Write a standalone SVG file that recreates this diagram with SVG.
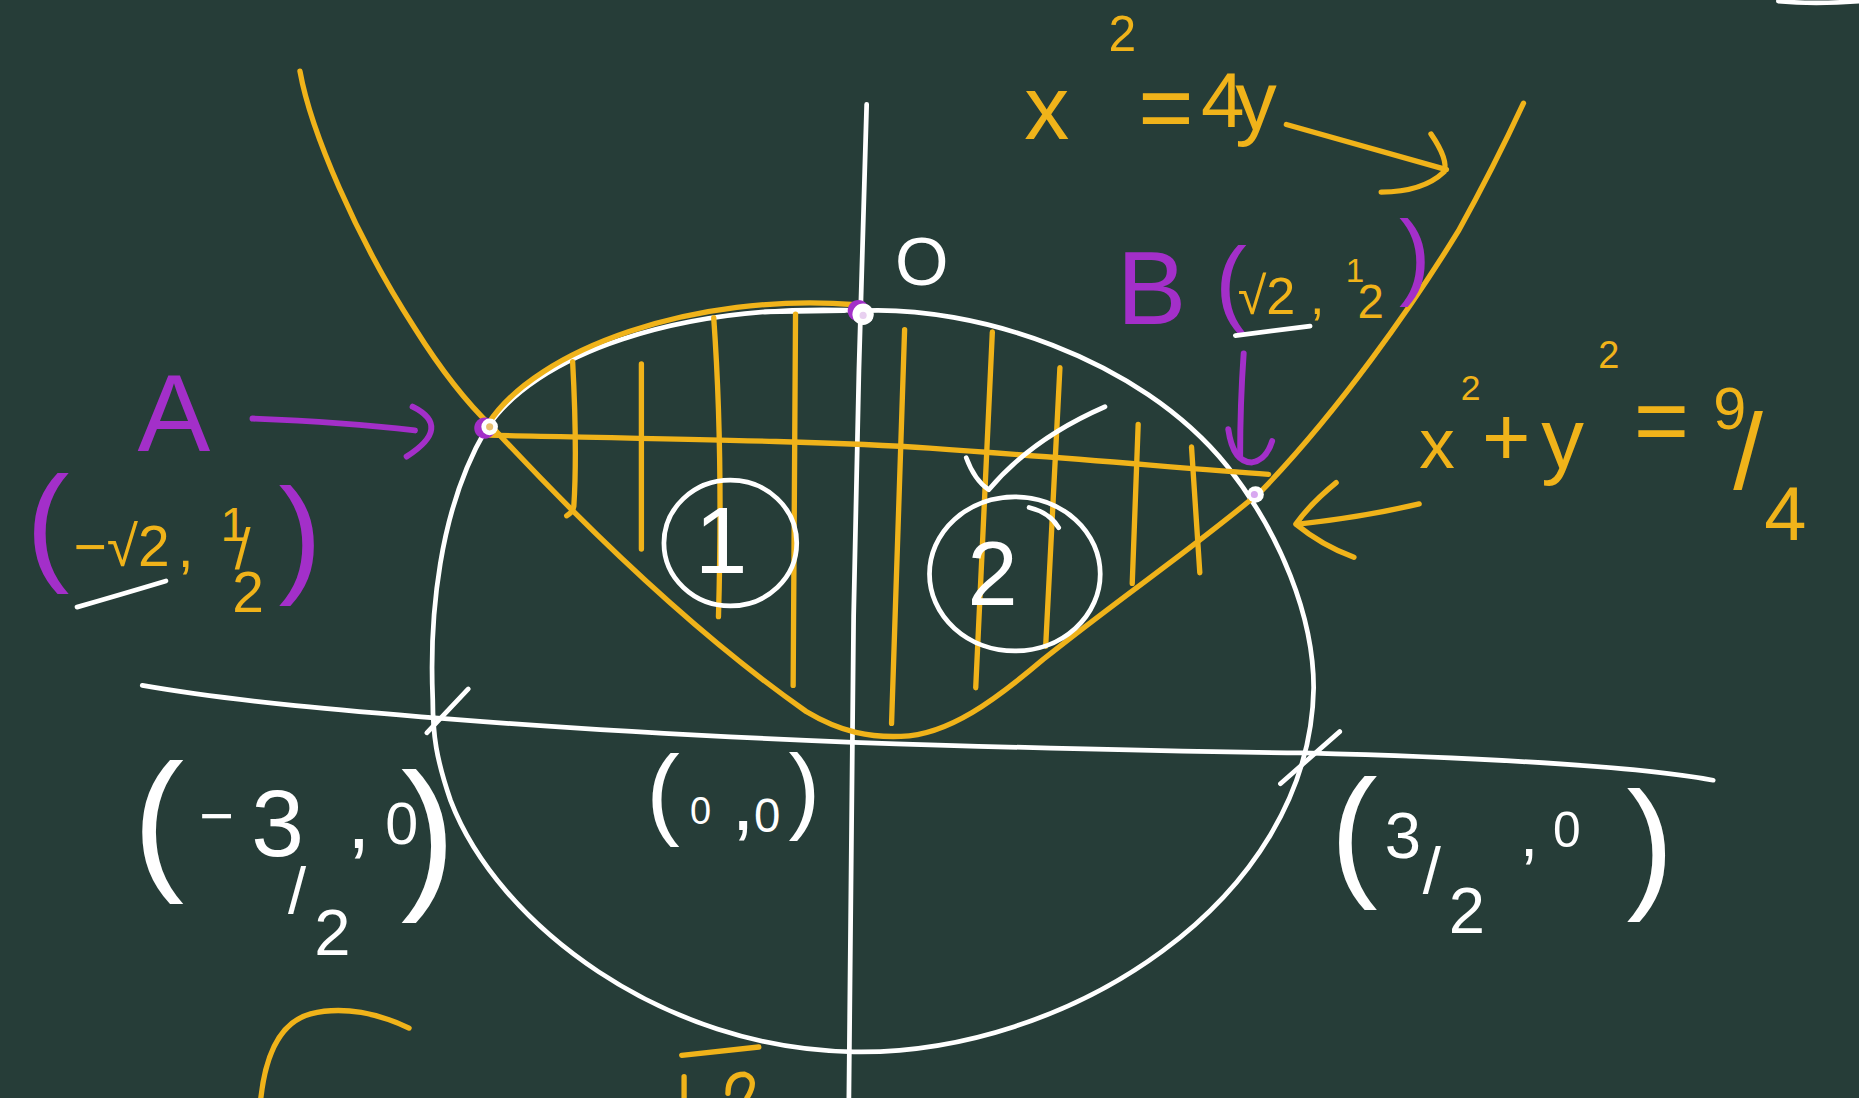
<svg xmlns="http://www.w3.org/2000/svg" width="1859" height="1098" viewBox="0 0 1859 1098">
<style>
.o{fill:none;stroke:#f0b31a;stroke-width:4.5;stroke-linecap:round;stroke-linejoin:round}
.w{fill:none;stroke:#ffffff;stroke-width:4;stroke-linecap:round;stroke-linejoin:round}
.p{fill:none;stroke:#a32fc9;stroke-width:5;stroke-linecap:round;stroke-linejoin:round}
text{font-family:"Liberation Sans","DejaVu Sans",sans-serif}
.to{fill:#f0b31a}
.tw{fill:#ffffff}
.tp{fill:#a32fc9}
</style>
<rect width="1859" height="1098" fill="#263d38"/>
<g transform="scale(1.18559,1.18575)">
  <g id="axes">
    <path class="w" d="M731,88 C727,200 722,400 720,520 C718,700 716,850 716,926" stroke-width="3"/>
    <path class="w" d="M120,578 C200,592 300,600 375,606 C500,616 620,622 720,626 C900,632 1000,634 1100,635 C1250,639 1380,646 1445,658" stroke-width="5.5"/>
    <path class="w" d="M360,618 L395,581"/>
    <path class="w" d="M1080,661 L1130,617"/>
    <path class="w" d="M645,263 L712,262"/>
    <path class="w" d="M1500,1 Q1530,4 1568,1"/>
  </g>
  <g id="circle">
    <path class="w" d="M728,262 C820,258 960,300 1035,393 C1080,450 1108,520 1108,580 C1105,760 900,890 720,887 C560,885 420,780 380,675 C368,640 365,620 365,590 C362,520 370,430 410,362 C450,300 570,255 728,262 Z"/>
  </g>
  <g id="parabola">
    <path class="o" d="M253,60 C262,110 300,200 350,277 C372,312 392,338 415,360 C480,430 580,530 680,600 C710,618 735,622 760,621 C800,620 840,590 880,556 C950,500 1010,460 1065,413 C1130,345 1190,260 1230,195 C1255,150 1272,115 1285,87"/>
    <path class="o" d="M412,357 C452,295 585,246 722,257" stroke-width="5"/>
    <path class="o" d="M412,367 C550,370 700,372 784,378 C900,386 1000,395 1070,400"/>
  </g>
  <g id="hatch">
    <path class="o" d="M483,305 Q487,380 484,427 Q483,432 478,435"/>
    <path class="o" d="M541,307 L541,463"/>
    <path class="o" d="M602,268 Q610,380 606,520"/>
    <path class="o" d="M671,265 L669,578"/>
    <path class="o" d="M763,278 L752,610"/>
    <path class="o" d="M837,280 L823,580"/>
    <path class="o" d="M894,310 L882,545"/>
    <path class="o" d="M960,358 L955,492"/>
    <path class="o" d="M1005,377 L1012,483"/>
  </g>
  <g id="points">
    <circle cx="409" cy="361" r="9" fill="#a32fc9"/>
    <circle cx="413" cy="360" r="7" fill="#ffffff"/>
    <circle cx="413" cy="360" r="3" fill="#e8c070"/>
    <circle cx="724" cy="262" r="9" fill="#a32fc9"/>
    <circle cx="728" cy="265" r="9" fill="#ffffff"/>
    <circle cx="728" cy="266" r="3" fill="#e8d0f0"/>
    <circle cx="1059" cy="417" r="7" fill="#ffffff"/>
    <circle cx="1058" cy="417" r="3" fill="#d8a8f0"/>
  </g>
  <g id="connectors">
    <path class="p" d="M213,353 Q290,356 350,363"/>
    <path class="p" d="M348,343 Q382,360 343,385"/>
    <path class="p" d="M1049,298 Q1046,340 1046,385"/>
    <path class="p" d="M1036,362 Q1040,390 1056,390 Q1068,388 1073,372"/>
    <path class="o" d="M1085,105 L1220,143"/>
    <path class="o" d="M1207,113 Q1222,135 1218,145 Q1200,162 1165,162"/>
    <path class="o" d="M1197,425 Q1150,436 1095,442"/>
    <path class="o" d="M1127,407 Q1105,425 1093,442 Q1115,460 1142,470"/>
  </g>
  <g id="label-A">
    <text><tspan class="tp" x="116" y="380" font-size="92">A</tspan><tspan class="tp" x="22" y="478" font-size="110">(</tspan><tspan class="to" x="62" y="477" font-size="48">−√2</tspan><tspan class="to" x="150" y="478" font-size="48">,</tspan><tspan class="to" x="186" y="456" font-size="40">1</tspan><tspan class="to" x="198" y="480" font-size="48">/</tspan><tspan class="to" x="196" y="516" font-size="48">2</tspan><tspan class="tp" x="235" y="488" font-size="110">)</tspan></text>
    <path class="w" d="M65,512 Q100,502 140,490"/>
  </g>
  <g id="label-B">
    <text><tspan class="tp" x="942" y="273" font-size="88">B</tspan><tspan class="tp" x="1025" y="265" font-size="80">(</tspan><tspan class="to" x="1044" y="265" font-size="44">√2</tspan><tspan class="to" x="1105" y="265" font-size="44">,</tspan><tspan class="to" x="1135" y="238" font-size="28">1</tspan><tspan class="to" x="1145" y="268" font-size="40">2</tspan><tspan class="tp" x="1180" y="242" font-size="80">)</tspan></text>
    <path class="w" d="M1042,283 L1105,275"/>
  </g>
  <g id="label-parabola">
    <text class="to"><tspan x="864" y="117" font-size="76">x</tspan><tspan x="935" y="43" font-size="42">2</tspan><tspan x="960" y="118" font-size="80">=</tspan><tspan x="1013" y="107" font-size="66">4</tspan><tspan x="1042" y="110" font-size="70">y</tspan></text>
  </g>
  <g id="label-circle">
    <text class="to"><tspan x="1197" y="395" font-size="60">x</tspan><tspan x="1232" y="337" font-size="30">2</tspan><tspan x="1250" y="392" font-size="70">+</tspan><tspan x="1300" y="395" font-size="72">y</tspan><tspan x="1348" y="310" font-size="32">2</tspan><tspan x="1378" y="382" font-size="80">=</tspan><tspan x="1445" y="362" font-size="50">9</tspan><tspan x="1462" y="412" font-size="90">/</tspan><tspan x="1488" y="455" font-size="64">4</tspan></text>
  </g>
  <g id="region-1">
    <ellipse class="w" cx="616" cy="458" rx="56" ry="53"/>
    <text class="tw" x="586" y="483" font-size="80">1</text>
  </g>
  <g id="region-2">
    <ellipse class="w" cx="856" cy="484" rx="72" ry="65"/>
    <text class="tw" x="816" y="510" font-size="76">2</text>
    <path class="w" d="M868,428 Q885,432 893,445"/>
    <path class="w" d="M815,386 Q822,405 834,413 Q870,370 932,343"/>
  </g>
  <g id="label-O">
    <text class="tw" x="755" y="240" font-size="58">O</text>
  </g>
  <g id="label-left">
    <text class="tw"><tspan x="112" y="735" font-size="130">(</tspan><tspan x="168" y="705" font-size="50">−</tspan><tspan x="212" y="722" font-size="80">3</tspan><tspan x="243" y="770" font-size="55">/</tspan><tspan x="265" y="805" font-size="55">2</tspan><tspan x="293" y="715" font-size="70">,</tspan><tspan x="325" y="712" font-size="50">0</tspan><tspan x="338" y="750" font-size="140">)</tspan></text>
  </g>
  <g id="label-origin">
    <text class="tw"><tspan x="545" y="697" font-size="85">(</tspan><tspan x="582" y="695" font-size="32">0</tspan><tspan x="617" y="700" font-size="70">,</tspan><tspan x="636" y="702" font-size="40">0</tspan><tspan x="665" y="692" font-size="80">)</tspan></text>
  </g>
  <g id="label-right">
    <text class="tw"><tspan x="1122" y="742" font-size="120">(</tspan><tspan x="1168" y="724" font-size="55">3</tspan><tspan x="1200" y="753" font-size="55">/</tspan><tspan x="1222" y="787" font-size="55">2</tspan><tspan x="1282" y="722" font-size="55">,</tspan><tspan x="1310" y="714" font-size="42">0</tspan><tspan x="1372" y="752" font-size="120">)</tspan></text>
  </g>
  <g id="bottom-fragments">
    <path class="o" d="M220,926 C224,890 236,862 262,855 C290,848 320,855 345,867" stroke-width="5"/>
    <path class="o" d="M575,890 L640,883" stroke-width="5.5"/>
    <path class="o" d="M577,908 L577,926"/>
    <path class="o" d="M630,926 Q640,910 628,906 Q614,906 614,922"/>
  </g>
</g>
</svg>
